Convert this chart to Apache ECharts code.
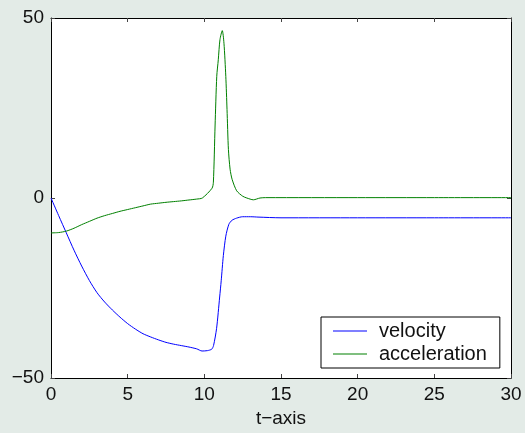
<!DOCTYPE html>
<html>
<head>
<meta charset="utf-8">
<script src="https://cdn.jsdelivr.net/npm/echarts@6/dist/echarts.min.js"></script>
<style>
html,body{margin:0;padding:0;background:#e3ebe7;}
#chart{width:525px;height:433px;}
</style>
</head>
<body>
<div id="chart"></div>
<script>
// Data
const xTicks = [0, 5, 10, 15, 20, 25, 30];
const yTicks = [-50, 0, 50];
const seriesNames = ['velocity', 'acceleration'];

const tVel = [0, 0.5, 1, 1.5, 2, 2.5, 3, 3.5, 4, 4.5, 5, 5.5, 6, 6.5, 7, 7.5, 8, 8.5, 9, 9.5, 9.85, 10.2, 10.48, 10.6, 10.8, 11.0, 11.1, 11.24, 11.4, 11.6, 11.8, 12.1, 12.5, 13, 13.5, 15, 20, 25, 30];
const velocity = [0, -4.9, -9.7, -14.5, -18.9, -22.9, -26.3, -28.9, -31.1, -33.1, -34.9, -36.4, -37.7, -38.6, -39.4, -40.1, -40.6, -41.0, -41.4, -41.9, -42.5, -42.4, -42.0, -41.0, -36.2, -27.5, -23.0, -16.0, -10.6, -7.3, -6.2, -5.6, -5.2, -5.2, -5.3, -5.5, -5.5, -5.5, -5.5];

const tAcc = [0, 0.5, 1, 1.5, 2, 2.5, 3, 3.5, 4, 4.5, 5, 5.5, 6, 6.5, 7, 7.5, 8, 8.5, 9, 9.5, 9.87, 10.5, 10.59, 10.7, 10.81, 10.91, 11.02, 11.17, 11.28, 11.4, 11.48, 11.57, 11.68, 11.81, 12.11, 12.5, 12.77, 13.2, 13.63, 14, 20, 25, 30];
const acceleration = [-9.7, -9.6, -9.2, -8.4, -7.4, -6.5, -5.6, -4.9, -4.3, -3.7, -3.2, -2.7, -2.2, -1.7, -1.45, -1.2, -1.0, -0.8, -0.55, -0.3, 0, 2.7, 4.4, 20, 33.8, 38.4, 44, 46.5, 43, 33.8, 24.6, 13.5, 8, 5.2, 2, 0.5, 0, -0.5, 0, 0.1, 0.1, 0.1, 0.1];

const font = 'Liberation Sans, Arial, Helvetica, sans-serif';
const velData = tVel.map((t, i) => [t, velocity[i]]);
const accData = tAcc.map((t, i) => [t, acceleration[i]]);

const chart = echarts.init(document.getElementById('chart'), null, {renderer: 'canvas'});
const axisLine = {show: true, onZero: false, lineStyle: {color: '#000', width: 1}};
const tick = {show: true, inside: true, length: 4, lineStyle: {color: '#444', width: 1}};
chart.setOption({
  backgroundColor: '#e3ebe7',
  animation: false,
  grid: {left: 51, right: 14, top: 18, bottom: 53, backgroundColor: '#fff', show: true, borderWidth: 0},
  xAxis: [{
    type: 'value', min: xTicks[0], max: xTicks[xTicks.length - 1], interval: 5,
    position: 'bottom',
    name: 't\u2212axis', nameLocation: 'middle', nameGap: 31,
    nameTextStyle: {fontFamily: font, fontSize: 19, color: '#111'},
    axisLine: axisLine, axisTick: tick, splitLine: {show: false},
    axisLabel: {fontFamily: font, fontSize: 19, color: '#111', margin: 7}
  }, {
    type: 'value', min: xTicks[0], max: xTicks[xTicks.length - 1], interval: 5,
    position: 'top', axisLine: axisLine, axisTick: tick, splitLine: {show: false},
    axisLabel: {show: false}
  }],
  yAxis: [{
    type: 'value', min: yTicks[0], max: yTicks[yTicks.length - 1], interval: 50,
    position: 'left',
    axisLine: axisLine, axisTick: tick, splitLine: {show: false},
    axisLabel: {fontFamily: font, fontSize: 19, color: '#111', margin: 7,
      formatter: v => (v < 0 ? '\u2212' + Math.abs(v) : String(v))}
  }, {
    type: 'value', min: yTicks[0], max: yTicks[yTicks.length - 1], interval: 50,
    position: 'right',
    axisLine: axisLine, axisTick: tick, splitLine: {show: false},
    axisLabel: {show: false}
  }],
  legend: {
    orient: 'vertical', left: 321, top: 317,
    data: seriesNames,
    icon: 'rect', itemWidth: 34, itemHeight: 1, itemGap: 3,
    padding: [4, 13, 4, 12],
    backgroundColor: '#fff', borderColor: '#000', borderWidth: 1,
    textStyle: {fontFamily: font, fontSize: 20, color: '#111', padding: [0, 0, 0, 7]}
  },
  series: [{
    name: seriesNames[0], type: 'line', data: velData, symbol: 'none', smooth: 0.25,
    lineStyle: {color: '#0000ff', width: 1}, itemStyle: {color: '#0000ff'}
  }, {
    name: seriesNames[1], type: 'line', data: accData, symbol: 'none', smooth: 0.25,
    lineStyle: {color: '#008000', width: 1}, itemStyle: {color: '#008000'}
  }]
});
</script>
</body>
</html>
